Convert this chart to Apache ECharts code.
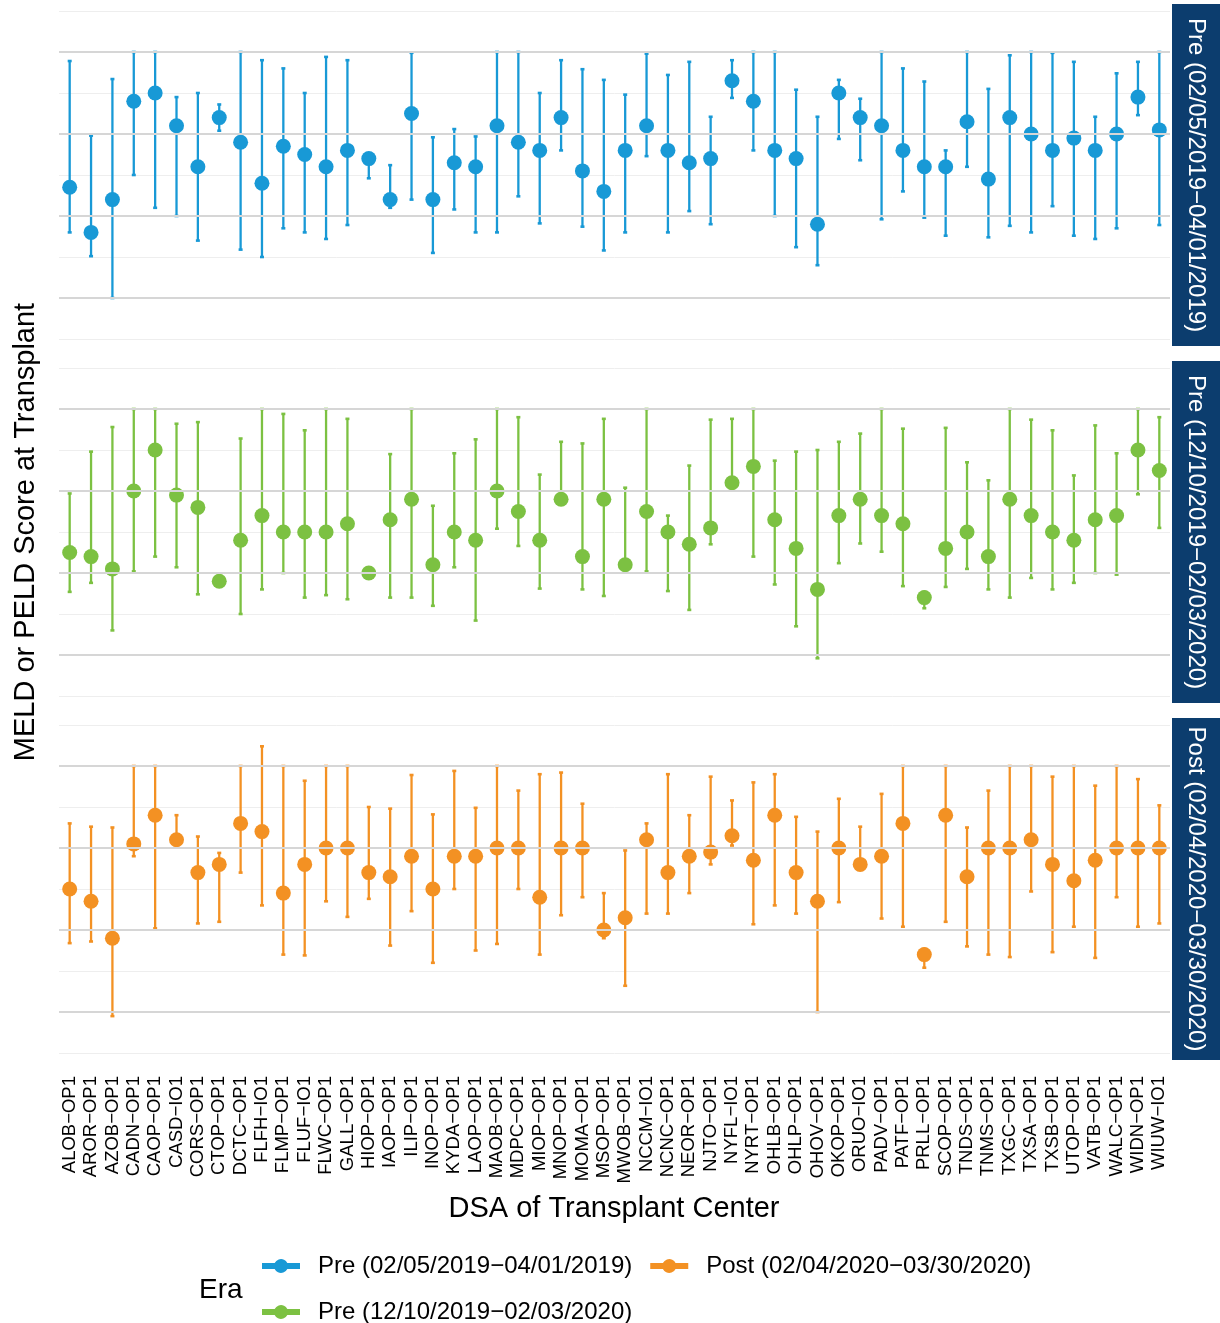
<!DOCTYPE html>
<html>
<head>
<meta charset="utf-8">
<title>MELD or PELD Score at Transplant by DSA</title>
<script src="https://cdn.jsdelivr.net/npm/echarts@6/dist/echarts.min.js"></script>
<style>
	html,body{margin:0;padding:0;background:#fff;}
	#main{width:1220px;height:1323px;}
</style>
</head>
<body>
<div id="main"></div>
<script>
// centres (DSA codes)
var dsaList = ['ALOB−OP1','AROR−OP1','AZOB−OP1','CADN−OP1','CAOP−OP1','CASD−IO1','CORS−OP1','CTOP−OP1','DCTC−OP1','FLFH−IO1',
	'FLMP−OP1','FLUF−IO1','FLWC−OP1','GALL−OP1','HIOP−OP1','IAOP−OP1','ILIP−OP1','INOP−OP1','KYDA−OP1','LAOP−OP1',
	'MAOB−OP1','MDPC−OP1','MIOP−OP1','MNOP−OP1','MOMA−OP1','MSOP−OP1','MWOB−OP1','NCCM−IO1','NCNC−OP1','NEOR−OP1',
	'NJTO−OP1','NYFL−IO1','NYRT−OP1','OHLB−OP1','OHLP−OP1','OHOV−OP1','OKOP−OP1','ORUO−IO1','PADV−OP1','PATF−OP1',
	'PRLL−OP1','SCOP−OP1','TNDS−OP1','TNMS−OP1','TXGC−OP1','TXSA−OP1','TXSB−OP1','UTOP−OP1','VATB−OP1','WALC−OP1',
	'WIDN−OP1','WIUW−IO1'];

var eraNames = ['Pre (02/05/2019−04/01/2019)','Pre (12/10/2019−02/03/2020)','Post (02/04/2020−03/30/2020)'];

// Pre (02/05/2019-04/01/2019)
var pre1Mid  = [23.5,18.0,22.0,34.0,35.0,31.0,26.0,32.0,29.0,24.0,28.5,27.5,26.0,28.0,27.0,22.0,32.5,22.0,26.5,26.0,
	31.0,29.0,28.0,32.0,25.5,23.0,28.0,31.0,28.0,26.5,27.0,36.5,34.0,28.0,27.0,19.0,35.0,32.0,31.0,28.0,
	26.0,26.0,31.5,24.5,32.0,30.0,28.0,29.5,28.0,30.0,34.5,30.5];
var pre1Low  = [18.0,15.1,10.0,25.0,21.0,20.0,17.0,30.4,15.9,15.0,18.5,18.0,17.2,18.9,24.6,21.0,22.0,15.5,20.8,18.0,
	18.0,22.4,19.1,28.0,18.7,15.8,18.0,27.3,18.0,20.6,19.0,34.4,28.0,20.0,16.2,14.0,29.4,26.8,19.6,23.0,
	19.8,17.6,26.0,17.4,18.8,18.0,21.2,17.6,17.2,18.5,32.3,18.9];
var pre1High = [38.9,29.8,36.7,40,40,34.5,35.0,33.6,40,39.0,38.0,35.0,39.4,39.0,27.6,26.2,39.9,29.6,30.6,29.7,
	40,40,35.0,39.0,37.9,36.6,34.8,39.8,37.2,38.8,32.1,39.0,40,40,35.4,32.1,36.6,34.3,40,38.0,
	36.4,28.0,40,35.5,39.6,40,39.9,38.8,32.1,37.4,38.8,40];

// Pre (12/10/2019-02/03/2020)
var pre2Mid  = [22.5,22.0,20.5,30.0,35.0,29.5,28.0,19.0,24.0,27.0,25.0,25.0,25.0,26.0,20.0,26.5,29.0,21.0,25.0,24.0,
	30.0,27.5,24.0,29.0,22.0,29.0,21.0,27.5,25.0,23.5,25.5,31.0,33.0,26.5,23.0,18.0,27.0,29.0,27.0,26.0,
	17.0,23.0,25.0,22.0,29.0,27.0,25.0,24.0,26.5,27.0,35.0,32.5];
var pre2Low  = [17.7,18.8,13.0,20.2,22.0,20.7,17.4,19.0,15.0,18.0,20.0,17.0,17.3,16.8,20.0,17.0,17.0,16.0,20.7,14.2,
	25.4,23.3,18.1,28.5,18.0,17.2,20.5,20.2,17.8,15.5,23.5,30.5,22.0,18.6,13.5,9.6,21.2,23.6,22.6,18.4,
	15.7,18.3,20.5,18.0,17.0,19.4,18.0,18.8,20.0,19.8,29.6,25.5];
var pre2High = [29.7,34.8,37.8,40,40,38.2,38.4,19.0,36.4,40,39.4,37.4,40,38.8,20.0,34.5,40,28.2,34.6,36.3,
	40,39.0,32.0,36.0,35.8,38.8,30.4,40,27.0,33.1,38.7,38.8,40,33.7,34.8,35.0,36.0,37.0,40,37.6,
	17.7,37.7,33.5,31.3,40,38.7,37.4,31.9,38.0,34.6,40,39.0];

// Post (02/04/2020-03/30/2020)
var postMid  = [25.0,23.5,19.0,30.5,34.0,31.0,27.0,28.0,33.0,32.0,24.5,28.0,30.0,30.0,27.0,26.5,29.0,25.0,29.0,29.0,
	30.0,30.0,24.0,30.0,30.0,20.0,21.5,31.0,27.0,29.0,29.5,31.5,28.5,34.0,27.0,23.5,30.0,28.0,29.0,33.0,
	17.0,34.0,26.5,30.0,30.0,31.0,28.0,26.0,28.5,30.0,30.0,30.0];
var postLow  = [18.4,18.6,9.5,29.0,20.2,30.4,20.8,21.0,27.0,23.0,17.0,16.9,23.5,21.6,23.8,18.1,22.3,16.0,25.0,17.5,
	18.3,25.0,17.0,21.8,24.0,19.0,13.2,22.0,22.0,24.5,28.0,30.3,20.7,23.0,22.0,10.0,23.4,27.4,21.4,20.4,
	15.4,21.0,18.0,17.0,16.7,24.7,17.3,20.4,16.6,24.0,20.4,20.8];
var postHigh = [33.0,32.6,32.5,40,40,34.0,31.4,29.4,40,42.4,40,38.2,40,40,35.0,34.8,38.9,34.1,39.4,34.9,
	40,37.0,39.0,39.2,35.4,24.5,29.7,33.0,39.0,34.0,38.7,35.8,38.0,39.0,33.8,32.0,36.0,32.6,36.6,40,
	17.7,40,32.5,37.0,40,40,38.7,40,37.6,40,38.4,35.2];

var majorTicks = [10,20,30,40];
var eraColors = ['#1899d6','#7cc142','#f39123'];
var stripColor = '#0c3d6e';
var fontFam = '"Liberation Sans", Arial, Helvetica, sans-serif';

var eraMid = [pre1Mid, pre2Mid, postMid];
var eraLow = [pre1Low, pre2Low, postLow];
var eraHigh = [pre1High, pre2High, postHigh];

var gridTops = [11, 368, 725];
var gridH = 328;

// legend key: line with a dot in the middle
var keyIcon = 'path://M0,4L12.68,4A7,7 0 0 1 25.32,4L38,4L38,10L25.32,10A7,7 0 0 1 12.68,10L0,10Z';

function errorBar(params, api) {
	var x = api.value(0);
	var top = api.coord([x, api.value(2)]);
	var bot = api.coord([x, api.value(1)]);
	var c = api.visual('color');
	return {
		type: 'group',
		children: [
			{type:'line', shape:{x1:top[0], y1:top[1], x2:bot[0], y2:bot[1]}, style:{stroke:c, lineWidth:2.3}},
			{type:'rect', shape:{x:top[0]-2, y:top[1]-1.3, width:4, height:2.6}, style:{fill:c}},
			{type:'rect', shape:{x:bot[0]-2, y:bot[1]-1.3, width:4, height:2.6}, style:{fill:c}}
		]
	};
}

var grids = [], xAxes = [], yAxes = [], series = [], graphics = [];
for (var g = 0; g < 3; g++) {
	grids.push({left: 59, width: 1111, top: gridTops[g], height: gridH});
	xAxes.push({
		type: 'category', gridIndex: g, data: dsaList, boundaryGap: true,
		axisLine: {show: false}, axisTick: {show: false}, splitLine: {show: false},
		axisLabel: g < 2 ? {show: false} : {
			rotate: 90, interval: 0, margin: 23, fontSize: 18.5, color: '#000', fontFamily: fontFam
		}
	});
	yAxes.push({
		type: 'value', gridIndex: g, min: 5, max: 45, interval: 5,
		axisLine: {show: false}, axisTick: {show: false}, axisLabel: {show: false},
		splitLine: {show: true, lineStyle: {color: '#eeeeee', width: 1}}
	});
	// major grid lines
	series.push({
		type: 'line', xAxisIndex: g, yAxisIndex: g, data: [], z: 0, silent: true,
		markLine: {
			silent: true, symbol: 'none', label: {show: false},
			lineStyle: {color: '#d6d6d6', width: 2, type: 'solid'},
			data: majorTicks.map(function (v) { return {yAxis: v}; })
		}
	});
	var barData = [];
	for (var i = 0; i < dsaList.length; i++) {
		barData.push([i, eraLow[g][i], eraHigh[g][i]]);
	}
	series.push({
		name: eraNames[g], type: 'custom', xAxisIndex: g, yAxisIndex: g, z: 2,
		itemStyle: {color: eraColors[g]},
		renderItem: errorBar, encode: {x: 0, y: [1, 2]}, data: barData, silent: true
	});
	series.push({
		name: eraNames[g], type: 'scatter', xAxisIndex: g, yAxisIndex: g, z: 3,
		symbol: 'circle', symbolSize: 15, itemStyle: {color: eraColors[g], opacity: 1},
		data: eraMid[g], silent: true
	});

	// facet strip on the right
	var sTop = gridTops[g] - 7, sH = gridH + 14;
	graphics.push({
		type: 'rect', left: 1172, top: sTop, shape: {width: 48, height: sH},
		style: {fill: stripColor}, silent: true
	});
	graphics.push({
		type: 'text', x: 1196, y: sTop + sH / 2, rotation: -Math.PI / 2,
		style: {text: eraNames[g], fill: '#fff', font: '24px ' + fontFam, align: 'center', verticalAlign: 'middle'},
		silent: true
	});
}

graphics.push({
	type: 'text', x: 26, y: 532, rotation: Math.PI / 2,
	style: {text: 'MELD or PELD Score at Transplant', fill: '#000', font: '29px ' + fontFam, align: 'center', verticalAlign: 'middle'}
});
graphics.push({
	type: 'text', x: 614, y: 1209,
	style: {text: 'DSA of Transplant Center', fill: '#000', font: '29px ' + fontFam, align: 'center', verticalAlign: 'middle'}
});
graphics.push({
	type: 'text', x: 199, y: 1290,
	style: {text: 'Era', fill: '#000', font: '28px ' + fontFam, align: 'left', verticalAlign: 'middle'}
});

var myChart = echarts.init(document.getElementById('main'), null, {renderer: 'canvas'});
var option = {
	backgroundColor: '#fff',
	animation: false,
	grid: grids,
	xAxis: xAxes,
	yAxis: yAxes,
	legend: {
		data: [eraNames[0], eraNames[2], eraNames[1]],
		left: 262, top: 1252, width: 790, padding: 0,
		icon: keyIcon, itemWidth: 38, itemHeight: 14, itemGap: 18,
		selectedMode: false,
		textStyle: {fontSize: 24, color: '#000', fontFamily: fontFam, lineHeight: 28, padding: [0, 0, 0, 13]}
	},
	graphic: graphics,
	series: series
};
myChart.setOption(option);
</script>
</body>
</html>
